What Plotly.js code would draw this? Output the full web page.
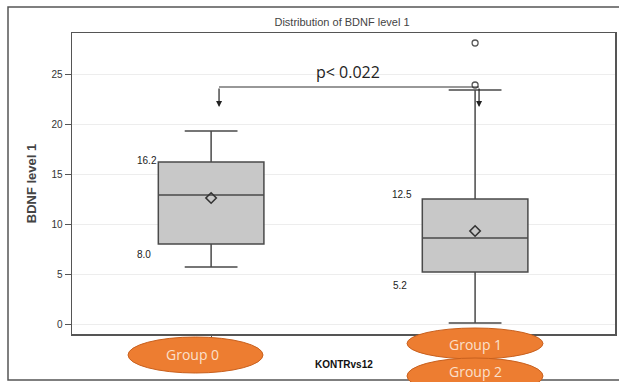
<!DOCTYPE html>
<html>
<head>
<meta charset="utf-8">
<script src="https://cdn.plot.ly/plotly-3.0.1.min.js"></script>
<style>html,body{margin:0;padding:0;background:#fff;}#chart{width:619px;height:382px;}</style>
</head>
<body>
<div id="chart"></div>
<script>
// Data
const groupPos = [0, 1];
const groupNames = ['Group 0', 'Group 1'];
const q1 = [8.0, 5.2];
const median = [12.9, 8.6];
const q3 = [16.2, 12.5];
const lowerFence = [5.7, 0.1];
const upperFence = [19.3, 23.4];
const means = [12.6, 9.3];
const outlierX = [1, 1];
const outlierY = [23.9, 28.1];
const pValueText = 'p< 0.022';
const ellipseLabels = ['Group 0', 'Group 1', 'Group 2'];
const xAxisLabel = 'KONTRvs12';

const boxTrace = {
  type: 'box',
  x: groupPos,
  q1: q1, median: median, q3: q3,
  lowerfence: lowerFence, upperfence: upperFence,
  width: 0.4,
  whiskerwidth: 0.5,
  fillcolor: '#c8c8c8',
  line: {color: '#4a4a4a', width: 1.5},
  boxpoints: false,
  hoverinfo: 'skip'
};
const meanTrace = {
  type: 'scatter', mode: 'markers', x: groupPos, y: means,
  marker: {symbol: 'diamond-open', size: 8, color: '#333', line: {width: 1.6, color: '#333'}},
  hoverinfo: 'skip'
};
const outTrace = {
  type: 'scatter', mode: 'markers', x: outlierX, y: outlierY,
  marker: {symbol: 'circle-open', size: 6, color: '#555', line: {width: 1.3, color: '#555'}},
  hoverinfo: 'skip'
};

// helpers: pixel -> paper
const PL = 72, PW = 543, PB = 334, PH = 301;
const px = v => (v - PL) / PW;
const py = v => (PB - v) / PH;

const bracketY = 23.7, arrowY = 21.7;

const shapes = [
  {type: 'rect', xref: 'paper', yref: 'paper', x0: px(8), x1: px(622), y0: py(380), y1: py(7), line: {color: '#555', width: 1.5}, layer: 'below'},
  {type: 'line', xref: 'x', yref: 'y', x0: 0.03, x1: 1.015, y0: bracketY, y1: bracketY, line: {color: '#333', width: 1.2}},
  {type: 'circle', xref: 'paper', yref: 'paper', x0: px(128), x1: px(263), y0: py(373), y1: py(337), fillcolor: '#ED7D31', line: {color: '#C8601E', width: 1}},
  {type: 'circle', xref: 'paper', yref: 'paper', x0: px(407), x1: px(543), y0: py(359), y1: py(328), fillcolor: '#ED7D31', line: {color: '#C8601E', width: 1}},
  {type: 'circle', xref: 'paper', yref: 'paper', x0: px(407), x1: px(543), y0: py(394), y1: py(358), fillcolor: '#ED7D31', line: {color: '#C8601E', width: 1}}
];

const lblFont = {family: 'Liberation Sans, Arial, sans-serif', size: 10, color: '#222'};
const ellFont = {family: 'Open Sans, sans-serif', size: 14, color: '#FBE0CC'};
const annotations = [
  {x: 0.03, y: arrowY, ax: 0.03, ay: bracketY, axref: 'x', ayref: 'y', xref: 'x', yref: 'y', text: '', showarrow: true, arrowhead: 2, arrowsize: 1, arrowwidth: 1.2, arrowcolor: '#222'},
  {x: 1.015, y: arrowY, ax: 1.015, ay: bracketY, axref: 'x', ayref: 'y', xref: 'x', yref: 'y', text: '', showarrow: true, arrowhead: 2, arrowsize: 1, arrowwidth: 1.2, arrowcolor: '#222'},
  {x: 0.519, y: 25.2, xref: 'x', yref: 'y', text: pValueText, showarrow: false, font: {family: 'Open Sans, Liberation Sans, sans-serif', size: 16, color: '#222'}},
  {x: -0.242, y: q3[0], xref: 'x', yref: 'y', yshift: 2, text: q3[0].toFixed(1), showarrow: false, font: lblFont},
  {x: -0.254, y: q1[0], xref: 'x', yref: 'y', yshift: -10, text: q1[0].toFixed(1), showarrow: false, font: lblFont},
  {x: 0.723, y: q3[1], xref: 'x', yref: 'y', yshift: 5, text: q3[1].toFixed(1), showarrow: false, font: lblFont},
  {x: 0.716, y: q1[1], xref: 'x', yref: 'y', yshift: -13, text: q1[1].toFixed(1), showarrow: false, font: lblFont},
  {x: px(192), y: py(355), xref: 'paper', yref: 'paper', xanchor: 'center', yanchor: 'middle', text: ellipseLabels[0], showarrow: false, font: ellFont},
  {x: px(475), y: py(344), xref: 'paper', yref: 'paper', xanchor: 'center', yanchor: 'middle', text: ellipseLabels[1], showarrow: false, font: ellFont},
  {x: px(475), y: py(371.5), xref: 'paper', yref: 'paper', xanchor: 'center', yanchor: 'middle', text: ellipseLabels[2], showarrow: false, font: ellFont},
  {x: px(344), y: py(365), xref: 'paper', yref: 'paper', xanchor: 'center', yanchor: 'middle', text: '<b>' + xAxisLabel + '</b>', showarrow: false, font: {family: 'Liberation Sans, Arial, sans-serif', size: 10, color: '#111'}}
];

const layout = {
  width: 619, height: 382,
  margin: {l: 72, r: 4, t: 33, b: 48},
  paper_bgcolor: '#fff', plot_bgcolor: '#fff',
  showlegend: false,
  title: {text: 'Distribution of BDNF level 1', xref: 'container', yref: 'container', x: 342/619, y: 1 - 22/382, xanchor: 'center', yanchor: 'middle', font: {family: 'Liberation Sans, Arial, sans-serif', size: 11, color: '#444'}},
  xaxis: {
    range: [-0.527, 1.53], showticklabels: false, ticks: 'outside', ticklen: 5, tickcolor: '#555',
    tickvals: groupPos, showgrid: false, zeroline: false,
    showline: true, mirror: true, linecolor: '#555', linewidth: 1.5
  },
  yaxis: {
    range: [-1, 29.1], tickvals: [0, 5, 10, 15, 20, 25], ticks: 'outside', ticklen: 6, tickcolor: '#555',
    tickfont: {family: 'Liberation Sans, Arial, sans-serif', size: 10, color: '#333'},
    showgrid: true, gridcolor: '#ededed', gridwidth: 1, zeroline: false,
    showline: true, mirror: true, linecolor: '#555', linewidth: 1.5,
    title: {text: '<b>BDNF level 1</b>', standoff: 12, font: {family: 'Liberation Sans, Arial, sans-serif', size: 13, color: '#444'}}
  },
  shapes: shapes,
  annotations: annotations
};

Plotly.newPlot('chart', [boxTrace, meanTrace, outTrace], layout, {displayModeBar: false, staticPlot: true});
</script>
</body>
</html>
